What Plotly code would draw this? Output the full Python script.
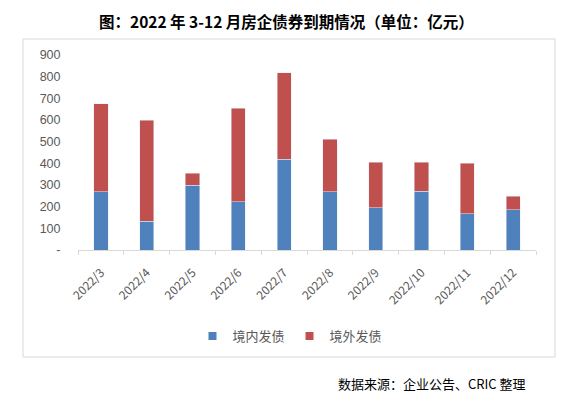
import plotly.graph_objects as go

categories = ["2022/3", "2022/4", "2022/5", "2022/6", "2022/7", "2022/8", "2022/9", "2022/10", "2022/11", "2022/12"]
domestic = [270, 132, 298, 222, 420, 268, 195, 272, 168, 185]
overseas = [405, 466, 57, 433, 397, 244, 211, 134, 233, 64]
y_ticks = [0, 100, 200, 300, 400, 500, 600, 700, 800, 900]
y_ticktext = ["-", "100", "200", "300", "400", "500", "600", "700", "800", "900"]
series_names = ["境内发债", "境外发债"]
series_colors = ["#4F81BD", "#C0504D"]

# page body has an 8px margin; work in reference pixel coords and shift
OFF = 8
W, H = 569 - OFF, 399 - OFF
plot_l, plot_r, plot_t, plot_b = 78, 536, 55, 250  # reference px
L, R, T, B = plot_l - OFF, W - (plot_r - OFF), plot_t - OFF, H - (plot_b - OFF)
pw, ph = W - L - R, H - T - B

def px(x):
    return (x - OFF - L) / pw

def py(y):
    return (H - B - (y - OFF)) / ph

cjk = "Noto Sans CJK SC"

fig = go.Figure()
fig.add_trace(go.Bar(x=categories, y=domestic, name=series_names[0],
                     marker_color=series_colors[0], showlegend=False))
fig.add_trace(go.Bar(x=categories, y=overseas, name=series_names[1],
                     marker_color=series_colors[1], showlegend=False))
for n, c in zip(series_names, series_colors):
    fig.add_trace(go.Scatter(x=[None], y=[None], mode="markers", name=n,
                             marker=dict(symbol="square", size=8, color=c)))

fig.update_layout(
    width=W, height=H,
    margin=dict(l=L, r=R, t=T, b=B, autoexpand=False),
    barmode="stack", bargap=0.69,
    plot_bgcolor="white", paper_bgcolor="white",
    font=dict(family=cjk, color="#595959", size=12),
    showlegend=True,
    legend=dict(orientation="h", x=px(290), xanchor="center", y=py(336), yanchor="middle",
                font=dict(size=13, color="#595959", family=cjk), itemwidth=30,
                traceorder="normal"),
    xaxis=dict(tickangle=-45, showline=True, linecolor="#d9d9d9", linewidth=1,
               ticks="outside", tickson="boundaries", ticklen=4, tickcolor="#d9d9d9",
               ticklabelstandoff=10,
               tickfont=dict(size=12, color="#595959", family=cjk), showgrid=False),
    yaxis=dict(range=[0, 900], tickvals=y_ticks, ticktext=y_ticktext, showgrid=False,
               showline=False, zeroline=False, ticks="outside", ticklen=14,
               tickcolor="rgba(0,0,0,0)",
               tickfont=dict(size=12.5, color="#595959", family="Liberation Sans")),
    shapes=[dict(type="rect", xref="paper", yref="paper",
                 x0=px(23), x1=px(555), y0=py(357), y1=py(39),
                 line=dict(color="#d9d9d9", width=1), fillcolor="rgba(0,0,0,0)", layer="below")],
    annotations=[
        dict(text="<b>图：2022 年 3-12 月房企债券到期情况（单位：亿元）</b>", xref="paper", yref="paper",
             x=px(286), y=py(8), xanchor="center", yanchor="top", showarrow=False,
             font=dict(size=15.5, color="#000000", family=cjk)),
        dict(text="数据来源：企业公告、CRIC 整理", xref="paper", yref="paper",
             x=px(528), y=py(383), xanchor="right", yanchor="middle", showarrow=False,
             font=dict(size=13, color="#000000", family=cjk)),
    ],
)

fig.write_html("out.html")
